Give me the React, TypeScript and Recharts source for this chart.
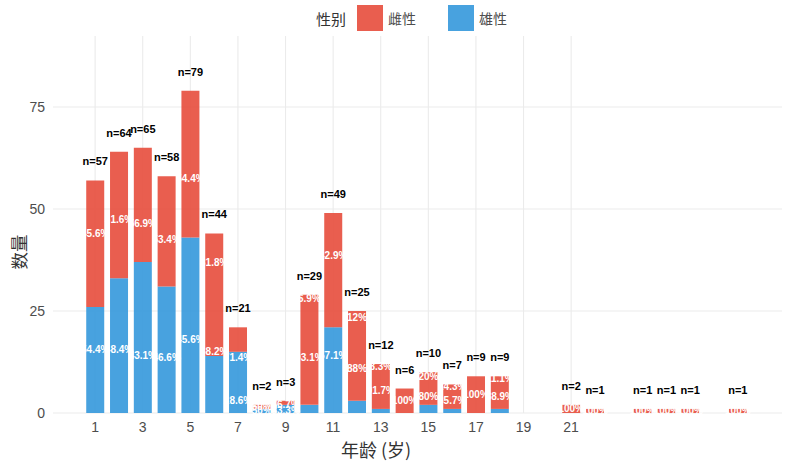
import { BarChart, Bar, XAxis, YAxis, CartesianGrid, LabelList } from "recharts";

// ages present in the data (missing ages have no bar)
const AGES = [1, 2, 3, 4, 5, 6, 7, 8, 9, 10, 11, 12, 13, 14, 15, 16, 17, 18, 21, 22, 24, 25, 26, 28];
const MALE = [26, 33, 37, 31, 43, 14, 15, 1, 2, 2, 21, 3, 1, 0, 2, 1, 0, 1, 0, 0, 0, 0, 0, 0];
const FEMALE = [31, 31, 28, 27, 36, 30, 6, 1, 1, 27, 28, 22, 11, 6, 8, 6, 9, 8, 2, 1, 1, 1, 1, 1];

const X_TICKS = [1, 3, 5, 7, 9, 11, 13, 15, 17, 19, 21];
const Y_TICKS = [0, 25, 50, 75];

const SERIES = [
  { key: "female", name: "雌性", color: "#E74C3C" },
  { key: "male", name: "雄性", color: "#3498DB" },
];

const FONT = "'Liberation Sans', Arial, sans-serif";
const CJK = "'Noto Sans CJK SC', sans-serif";

const pct = (v: number, t: number) => (v ? `${+((v / t) * 100).toFixed(1)}%` : "");

const data = AGES.map((age, i) => {
  const total = MALE[i] + FEMALE[i];
  return { age, male: MALE[i], female: FEMALE[i], total, maleLab: pct(MALE[i], total), femaleLab: pct(FEMALE[i], total) };
});

// white share label centred in an (invisible) overlay segment
const PctLabel = (props: any) => {
  const vb = props.viewBox ?? props;
  if (!props.value) return null;
  return (
    <text x={vb.x + vb.width / 2} y={vb.y + vb.height / 2} dy="0.35em" textAnchor="middle"
      fill="#fff" fontSize={10} fontWeight="bold" fontFamily={FONT}>
      {props.value}
    </text>
  );
};

export default function App() {
  return (
    <div style={{ position: "absolute", left: 0, top: 0, width: 790, height: 462, background: "#fff" }}>
      <BarChart width={790} height={462} data={data} margin={{ top: 36, right: 8, left: 0, bottom: 0 }} style={{ fontFamily: FONT }}>
        <CartesianGrid stroke="#ebebeb" strokeWidth={1.1} syncWithTicks />
        <XAxis dataKey="age" type="number" domain={[-0.77, 29.86]} allowDataOverflow ticks={X_TICKS} interval={0}
          axisLine={false} tickLine={false} tickSize={0} tickMargin={9} height={49}
          tick={{ fontSize: 14, fill: "#4d4d4d", fontFamily: FONT }} />
        <XAxis xAxisId="lab" dataKey="age" type="number" domain={[-0.77, 29.86]} allowDataOverflow ticks={X_TICKS} hide />
        <YAxis domain={[0, 92.4]} allowDataOverflow ticks={Y_TICKS} width={53}
          axisLine={false} tickLine={false} tickSize={0} tickMargin={8}
          tick={{ fontSize: 14, fill: "#4d4d4d", fontFamily: FONT }} />

        {/* visible stack: male at bottom, female on top */}
        <Bar dataKey="male" stackId="n" fill="#3498DB" fillOpacity={0.9} barSize={18} isAnimationActive={false} />
        <Bar dataKey="female" stackId="n" fill="#E74C3C" fillOpacity={0.9} barSize={18} isAnimationActive={false}>
          <LabelList dataKey="total" position="top" offset={15} formatter={(v: any) => `n=${v}`}
            style={{ fontSize: 11, fontWeight: "bold", fill: "#000", fontFamily: FONT }} />
        </Bar>

        {/* label stack in reverse order, as in the original figure */}
        <Bar xAxisId="lab" dataKey="female" stackId="lab" fill="transparent" barSize={18} isAnimationActive={false}>
          <LabelList dataKey="femaleLab" content={PctLabel} />
        </Bar>
        <Bar xAxisId="lab" dataKey="male" stackId="lab" fill="transparent" barSize={18} isAnimationActive={false}>
          <LabelList dataKey="maleLab" content={PctLabel} />
        </Bar>
      </BarChart>

      {/* legend */}
      <div style={{ position: "absolute", left: 316, top: 5, height: 26, display: "flex", alignItems: "center", fontFamily: CJK, color: "#333" }}>
        <span style={{ fontSize: 15, marginRight: 11 }}>性别</span>
        {SERIES.map((s, i) => (
          <div key={s.key} style={{ display: "flex", alignItems: "center", marginRight: i === 0 ? 32 : 0 }}>
            <div style={{ width: 26, height: 26, background: s.color, opacity: 0.9 }} />
            <span style={{ fontSize: 14, marginLeft: 5, color: "#4d4d4d" }}>{s.name}</span>
          </div>
        ))}
      </div>

      {/* axis titles */}
      <div style={{ position: "absolute", left: 376, top: 449, transform: "translate(-50%, -50%)", fontSize: 18, fontFamily: CJK, color: "#333", whiteSpace: "nowrap" }}>
        年龄 (岁)
      </div>
      <div style={{ position: "absolute", left: 18, top: 252, transform: "translate(-50%, -50%) rotate(-90deg)", fontSize: 17.5, fontFamily: CJK, color: "#333", whiteSpace: "nowrap" }}>
        数量
      </div>
    </div>
  );
}
